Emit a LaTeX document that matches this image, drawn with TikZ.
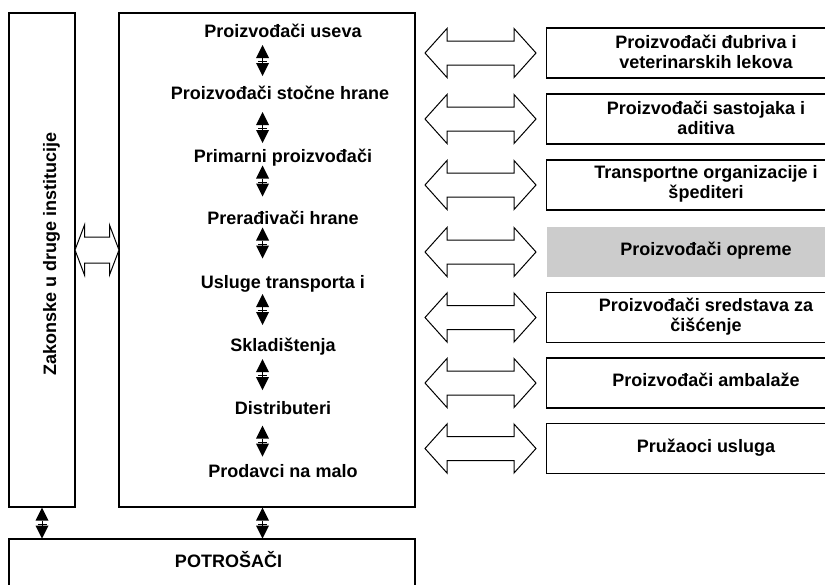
\documentclass[tikz,border=0pt]{standalone}
\usepackage{fontspec}
\setmainfont{Liberation Sans}
\usetikzlibrary{calc}
\definecolor{boxgray}{RGB}{204,204,204}
\begin{document}
\begin{tikzpicture}[x=1pt,y=-1pt,
  every node/.style={font=\fontsize{18}{20}\selectfont\bfseries},
  box/.style={draw, line width=1.4pt, inner sep=0pt},
  item/.style={anchor=base, inner sep=0pt},
  rbox/.style={box, minimum width=380pt, minimum height=50pt, anchor=west},
  rtext/.style={inner sep=0pt, align=center},
  one/.style={text height=13pt, text depth=4pt},
  updown/.pic={
    \fill (-6.5,-2.5) -- (6.5,-2.5) -- (0,-15.5) -- cycle;
    \fill (-6.5,2.5) -- (6.5,2.5) -- (0,15.5) -- cycle;
    \draw[line width=1pt] (0,-2.5) -- (0,2.5);
    \draw[line width=1pt] (-4.5,1) -- (4.5,1);
  },
  bigarr/.pic={
    \draw[line width=1pt, fill=white] (-55.5,0) -- (-33.5,-24.5) -- (-33.5,-12)
      -- (33.5,-12) -- (33.5,-24.5) -- (55.5,0) -- (33.5,24.5) -- (33.5,12)
      -- (-33.5,12) -- (-33.5,24.5) -- cycle;
  },
  smallarr/.pic={
    \draw[line width=1pt, fill=white] (-22,0) -- (-12.5,-25) -- (-12.5,-13)
      -- (12.5,-13) -- (12.5,-25) -- (22,0) -- (12.5,25) -- (12.5,13)
      -- (-12.5,13) -- (-12.5,25) -- cycle;
  }
]
\useasboundingbox (0,0) rectangle (825,584);
\clip (0,0) rectangle (825,584);
\fill[white] (0,0) rectangle (825,584);

% left box
\node[box, minimum width=66pt, minimum height=494pt] (law) at (42,260) {};
\node[item, rotate=90] (lawtext) at (56,254) {Zakonske u druge institucije};

% main box
\node[box, minimum width=296pt, minimum height=494pt] (main) at (267,260) {};
\node[item] (t1) at (283,37.5) {Proizvođači useva};
\node[item] (t2) at (280,99.5) {Proizvođači stočne hrane};
\node[item] (t3) at (283,162.5) {Primarni proizvođači};
\node[item] (t4) at (283,224) {Prerađivači hrane};
\node[item] (t5) at (283,288) {Usluge transporta i};
\node[item] (t6) at (283,351.5) {Skladištenja};
\node[item] (t7) at (283,414.5) {Distributeri};
\node[item] (t8) at (283,477.5) {Prodavci na malo};

% small double arrows between items
\coordinate (a1) at (262.5,60.5);
\coordinate (a2) at (262.5,127.5);
\coordinate (a3) at (262.5,181);
\coordinate (a4) at (262.5,243);
\coordinate (a5) at (262.5,309.5);
\coordinate (a6) at (262.5,374.5);
\coordinate (a7) at (262.5,441);
\foreach \a in {a1,a2,a3,a4,a5,a6,a7} {\pic at (\a) {updown};}

% consumers box
\node[box, minimum width=406pt, minimum height=90pt] (cons) at (212,584) {};
\node[item] (constext) at (228.5,567) {POTROŠAČI};

\coordinate (b1) at (42,523);
\coordinate (b2) at (262.5,523);
\pic at (b1) {updown};
\pic at (b2) {updown};

% block arrow between left box and main box
\pic at (97,250) {smallarr};

% right boxes
\node[rbox] (r1) at (546,53) {};
\node[rbox] (r2) at (546,119) {};
\node[rbox] (r3) at (546,185) {};
\node[rbox, draw=none, fill=boxgray] (r4) at (546,252) {};
\node[rbox] (r5) at (546,317.5) {};
\node[rbox] (r6) at (546,383) {};
\node[rbox] (r7) at (546,448.5) {};

\node[rtext] (r1t) at (706,52) {Proizvođači đubriva i\\veterinarskih lekova};
\node[rtext] (r2t) at (706,118) {Proizvođači sastojaka i\\aditiva};
\node[rtext] (r3t) at (706,184) {Transportne organizacije i\\špediteri};
\node[rtext, one] (r4t) at (706,251) {Proizvođači opreme};
\node[rtext] (r5t) at (706,316.5) {Proizvođači sredstava za\\čišćenje};
\node[rtext, one] (r6t) at (706,382) {Proizvođači ambalaže};
\node[rtext, one] (r7t) at (706,447.5) {Pružaoci usluga};

\foreach \r in {r1,r2,r3,r4,r5,r6,r7} {\pic at ([xshift=-65.5pt]\r.west) {bigarr};}
\end{tikzpicture}
\end{document}
